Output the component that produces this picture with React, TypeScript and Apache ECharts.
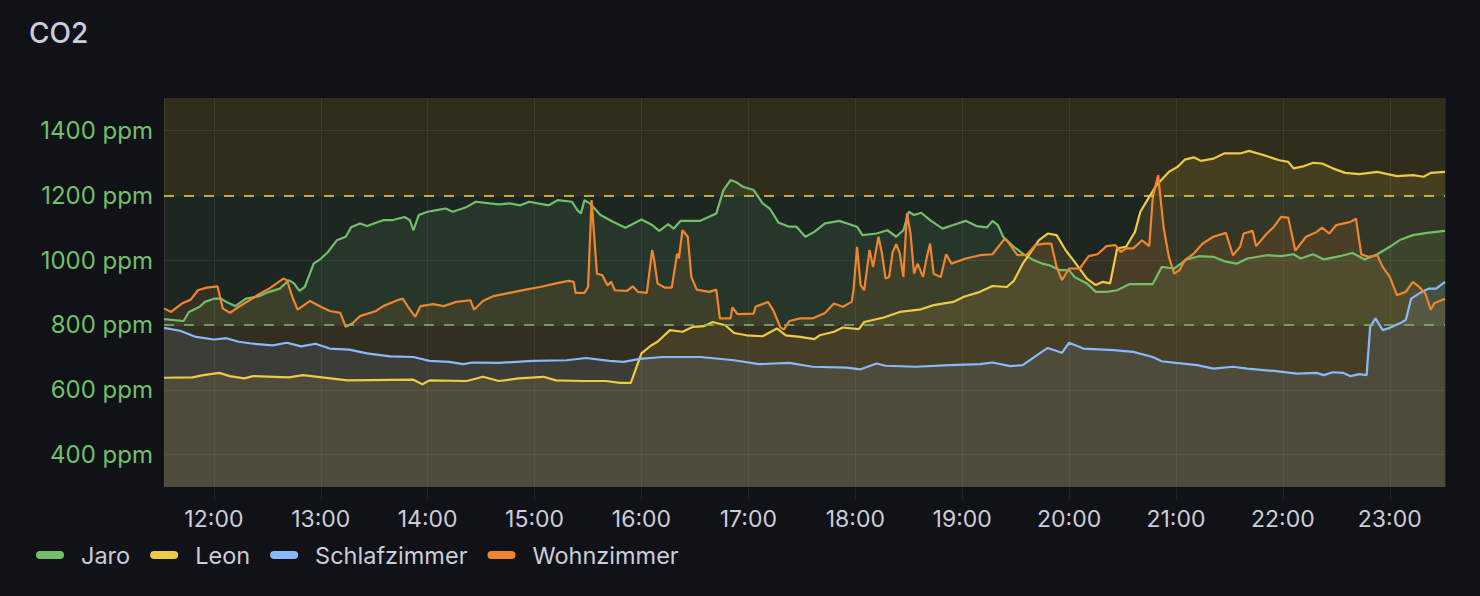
import { useEffect, useRef } from 'react';
import * as echarts from 'echarts';

const seriesNames = ['Jaro', 'Leon', 'Schlafzimmer', 'Wohnzimmer'];
const seriesColors = ['#73BF69', '#EECB45', '#8AB8FF', '#F0852F'];

const jaro: [string, number][] = [
  ['11:32', 818], ['11:43', 812], ['11:46', 840], ['11:52', 856], ['11:55', 871], ['12:00', 881], ['12:04', 881],
  ['12:07', 871], ['12:12', 858], ['12:18', 881], ['12:25', 888], ['12:31', 902], ['12:37', 912], ['12:42', 938],
  ['12:45', 928], ['12:48', 905], ['12:51', 917], ['12:56', 989], ['13:00', 1004], ['13:04', 1025], ['13:09', 1061],
  ['13:14', 1072], ['13:17', 1101], ['13:22', 1113], ['13:26', 1105], ['13:31', 1115], ['13:35', 1123], ['13:40', 1123],
  ['13:47', 1133], ['13:50', 1123], ['13:52', 1092], ['13:55', 1139], ['14:00', 1149], ['14:05', 1154], ['14:10', 1159],
  ['14:14', 1149], ['14:22', 1164], ['14:27', 1180], ['14:35', 1175], ['14:40', 1172], ['14:46', 1175], ['14:52', 1169],
  ['14:57', 1180], ['15:08', 1169], ['15:13', 1185], ['15:21', 1180], ['15:24', 1154], ['15:26', 1144], ['15:28', 1185],
  ['15:31', 1175], ['15:37', 1139], ['15:44', 1118], ['15:51', 1100], ['16:00', 1125], ['16:06', 1108], ['16:10', 1090],
  ['16:15', 1111], ['16:18', 1097], ['16:22', 1121], ['16:33', 1121], ['16:42', 1144], ['16:46', 1216], ['16:50', 1247],
  ['16:53', 1241], ['16:57', 1226], ['17:03', 1216], ['17:08', 1175], ['17:12', 1159], ['17:17', 1115], ['17:23', 1103],
  ['17:27', 1103], ['17:32', 1072], ['17:37', 1087], ['17:43', 1113], ['17:48', 1118], ['17:51', 1121], ['18:01', 1103],
  ['18:04', 1077], ['18:12', 1082], ['18:18', 1092], ['18:23', 1072], ['18:27', 1092], ['18:30', 1149], ['18:33', 1139],
  ['18:37', 1146], ['18:42', 1123], ['18:49', 1097], ['18:55', 1108], ['19:02', 1121], ['19:08', 1105], ['19:14', 1101],
  ['19:17', 1121], ['19:20', 1108], ['19:23', 1072], ['19:29', 1041], ['19:34', 1020], ['19:40', 1000], ['19:45', 989],
  ['19:49', 984], ['19:55', 969], ['20:00', 969], ['20:03', 948], ['20:10', 928], ['20:15', 902], ['20:21', 902],
  ['20:27', 907], ['20:34', 926], ['20:47', 926], ['20:52', 979], ['20:59', 974], ['21:06', 1002], ['21:13', 1012],
  ['21:21', 1010], ['21:28', 995], ['21:34', 989], ['21:40', 1005], ['21:51', 1015], ['21:59', 1012], ['22:06', 1018],
  ['22:10', 1005], ['22:17', 1018], ['22:23', 1002], ['22:32', 1012], ['22:39', 1022], ['22:46', 1002], ['22:53', 1018],
  ['23:00', 1041], ['23:06', 1063], ['23:13', 1077], ['23:21', 1084], ['23:31', 1090],
];

const leon: [string, number][] = [
  ['11:32', 637], ['11:48', 638], ['11:54', 645], ['12:03', 652], ['12:09', 642], ['12:17', 635], ['12:22', 642],
  ['12:42', 638], ['12:50', 645], ['13:15', 629], ['13:52', 631], ['13:57', 617], ['14:01', 629], ['14:22', 627],
  ['14:31', 640], ['14:40', 627], ['14:51', 635], ['15:05', 640], ['15:12', 629], ['15:27', 627], ['15:40', 627],
  ['15:48', 621], ['15:54', 621], ['16:00', 712], ['16:05', 735], ['16:09', 748], ['16:16', 784], ['16:23', 779],
  ['16:29', 794], ['16:35', 796], ['16:40', 809], ['16:47', 799], ['16:52', 775], ['16:59', 768], ['17:08', 765],
  ['17:16', 789], ['17:21', 768], ['17:29', 763], ['17:37', 756], ['17:40', 768], ['17:48', 779], ['17:53', 792],
  ['18:02', 787], ['18:05', 809], ['18:16', 823], ['18:25', 840], ['18:36', 847], ['18:44', 861], ['18:55', 871],
  ['19:01', 887], ['19:10', 902], ['19:17', 920], ['19:25', 917], ['19:29', 936], ['19:34', 989], ['19:38', 1020],
  ['19:43', 1061], ['19:48', 1082], ['19:53', 1077], ['19:58', 1031], ['20:03', 995], ['20:10', 943], ['20:15', 923],
  ['20:19', 933], ['20:23', 928], ['20:27', 1036], ['20:32', 1041], ['20:37', 1087], ['20:40', 1149], ['20:45', 1195],
  ['20:49', 1231], ['20:56', 1272], ['21:01', 1288], ['21:05', 1310], ['21:10', 1317], ['21:14', 1306], ['21:21', 1313],
  ['21:27', 1329], ['21:36', 1329], ['21:41', 1337], ['21:49', 1324], ['21:58', 1308], ['22:03', 1303], ['22:06', 1283],
  ['22:12', 1290], ['22:17', 1300], ['22:22', 1298], ['22:28', 1283], ['22:35', 1269], ['22:43', 1265], ['22:53', 1272],
  ['23:04', 1259], ['23:13', 1262], ['23:19', 1257], ['23:23', 1269], ['23:31', 1272],
];

const schlafzimmer: [string, number][] = [
  ['11:32', 791], ['11:41', 782], ['11:50', 763], ['12:00', 755], ['12:07', 759], ['12:14', 748], ['12:22', 742],
  ['12:33', 737], ['12:41', 745], ['12:49', 734], ['12:57', 742], ['13:05', 727], ['13:16', 724], ['13:26', 712],
  ['13:39', 703], ['13:52', 701], ['14:01', 689], ['14:12', 686], ['14:20', 679], ['14:25', 684], ['14:40', 683],
  ['14:59', 689], ['15:18', 691], ['15:29', 698], ['15:42', 689], ['15:50', 686], ['15:59', 695], ['16:12', 701],
  ['16:33', 701], ['16:52', 691], ['17:06', 679], ['17:23', 683], ['17:36', 671], ['17:55', 668], ['18:03', 663],
  ['18:12', 681], ['18:17', 674], ['18:34', 671], ['18:53', 676], ['19:10', 679], ['19:17', 684], ['19:27', 673],
  ['19:34', 676], ['19:42', 707], ['19:48', 729], ['19:56', 714], ['20:00', 745], ['20:08', 727], ['20:25', 722],
  ['20:36', 717], ['20:47', 701], ['20:52', 688], ['21:00', 683], ['21:12', 676], ['21:21', 665], ['21:32', 671],
  ['21:40', 665], ['21:55', 658], ['22:08', 650], ['22:19', 652], ['22:23', 645], ['22:28', 654], ['22:34', 652],
  ['22:38', 642], ['22:43', 648], ['22:47', 645], ['22:49', 794], ['22:52', 820], ['22:56', 784], ['23:00', 791],
  ['23:06', 806], ['23:09', 815], ['23:12', 881], ['23:17', 899], ['23:22', 912], ['23:26', 912], ['23:31', 933],
];

const wohnzimmer: [string, number][] = [
  ['11:32', 851], ['11:36', 840], ['11:42', 866], ['11:47', 878], ['11:51', 907], ['11:56', 915], ['12:02', 919],
  ['12:05', 851], ['12:09', 837], ['12:14', 856], ['12:20', 876], ['12:26', 897], ['12:31', 912], ['12:39', 943],
  ['12:41', 938], ['12:44', 887], ['12:47', 847], ['12:54', 874], ['13:00', 856], ['13:05', 843], ['13:11', 837],
  ['13:14', 794], ['13:18', 806], ['13:22', 827], ['13:31', 843], ['13:35', 858], ['13:43', 876], ['13:46', 881],
  ['13:49', 856], ['13:53', 825], ['13:56', 858], ['14:03', 864], ['14:09', 858], ['14:16', 871], ['14:24', 876],
  ['14:26', 847], ['14:31', 874], ['14:37', 889], ['14:46', 899], ['14:55', 909], ['15:03', 917], ['15:12', 928],
  ['15:19', 936], ['15:22', 933], ['15:23', 899], ['15:28', 899], ['15:30', 917], ['15:32', 1185], ['15:35', 958],
  ['15:38', 953], ['15:41', 922], ['15:43', 933], ['15:45', 907], ['15:52', 905], ['15:55', 919], ['15:58', 902],
  ['16:03', 899], ['16:06', 1031], ['16:07', 1005], ['16:09', 928], ['16:13', 915], ['16:17', 915], ['16:20', 1020],
  ['16:21', 1005], ['16:23', 1092], ['16:26', 1072], ['16:28', 948], ['16:31', 909], ['16:38', 902], ['16:42', 909],
  ['16:44', 820], ['16:50', 820], ['16:51', 854], ['16:54', 833], ['17:03', 835], ['17:04', 856], ['17:11', 871],
  ['17:14', 845], ['17:18', 792], ['17:20', 786], ['17:23', 812], ['17:29', 820], ['17:36', 820], ['17:43', 837],
  ['17:48', 866], ['17:53', 856], ['17:58', 871], ['17:59', 907], ['18:01', 1041], ['18:03', 923], ['18:05', 907],
  ['18:07', 989], ['18:08', 1031], ['18:10', 979], ['18:13', 1072], ['18:15', 1020], ['18:17', 943], ['18:19', 948],
  ['18:21', 1025], ['18:23', 1049], ['18:25', 1020], ['18:27', 948], ['18:29', 1144], ['18:31', 1082], ['18:33', 958],
  ['18:35', 989], ['18:38', 948], ['18:40', 1005], ['18:42', 1051], ['18:44', 958], ['18:48', 948], ['18:51', 1018],
  ['18:54', 989], ['19:02', 1005], ['19:10', 1015], ['19:17', 1018], ['19:24', 1067], ['19:27', 1046], ['19:31', 1015],
  ['19:36', 1015], ['19:41', 1046], ['19:46', 1051], ['19:50', 1051], ['19:53', 979], ['19:56', 938], ['20:00', 974],
  ['20:06', 974], ['20:11', 1012], ['20:16', 1018], ['20:21', 1043], ['20:26', 1046], ['20:29', 1025], ['20:32', 1036],
  ['20:36', 1036], ['20:41', 1061], ['20:45', 1043], ['20:47', 1195], ['20:50', 1262], ['20:53', 1103], ['20:56', 1010],
  ['20:59', 958], ['21:02', 969], ['21:05', 1000], ['21:10', 1020], ['21:15', 1051], ['21:21', 1072], ['21:28', 1084],
  ['21:32', 1015], ['21:36', 1041], ['21:38', 1082], ['21:43', 1090], ['21:45', 1043], ['21:51', 1082], ['21:55', 1103],
  ['21:59', 1133], ['22:03', 1131], ['22:07', 1029], ['22:13', 1072], ['22:19', 1087], ['22:22', 1100], ['22:26', 1082],
  ['22:30', 1108], ['22:38', 1118], ['22:41', 1128], ['22:44', 1018], ['22:48', 1010], ['22:53', 1015], ['22:56', 979],
  ['23:00', 948], ['23:04', 892], ['23:09', 902], ['23:13', 933], ['23:16', 920], ['23:20', 897], ['23:23', 847],
  ['23:25', 867], ['23:31', 881],
];

const seriesData = [jaro, leon, schlafzimmer, wohnzimmer];
const timeRange = ['11:32', '23:31'];
const yRange = [300, 1500];
const yLabelStep = 200;
const thresholdValues = [800, 1200];

const toTs = (hm: string) => {
  const [h, m] = hm.split(':').map(Number);
  return new Date(2024, 0, 15, h, m, 0).getTime();
};
const pad = (n: number) => (n < 10 ? '0' + n : '' + n);

const FONT = 'Inter, "Noto Sans", "DejaVu Sans", sans-serif';
const TEXT = '#CCCCDC';
const GRID = 'rgba(204,204,220,0.09)';

export default function App() {
  const ref = useRef<HTMLDivElement>(null);
  useEffect(() => {
    document.body.style.margin = '0';
    document.body.style.background = '#111217';
    const chart = echarts.init(ref.current!, null, { renderer: 'svg' });
    chart.setOption({
      animation: false,
      backgroundColor: '#111217',
      textStyle: { fontFamily: FONT },
      title: {
        text: 'CO2',
        left: 29,
        top: 19,
        padding: 0,
        textStyle: { color: TEXT, fontSize: 28, fontWeight: 500, fontFamily: FONT },
      },
      legend: {
        data: seriesNames,
        left: 36,
        top: 543,
        padding: 0,
        itemWidth: 28,
        itemHeight: 8,
        itemGap: 20,
        icon: 'path://M4 0H24A4 4 0 0 1 24 8H4A4 4 0 0 1 4 0Z',
        itemStyle: { borderWidth: 0 },
        textStyle: { color: TEXT, fontSize: 23.5, fontFamily: FONT, padding: [0, 0, 0, 12] },
      },
      grid: { left: 164, right: 35, top: 98, bottom: 109 },
      xAxis: {
        type: 'time',
        min: toTs(timeRange[0]),
        max: toTs(timeRange[1]),
        minInterval: 3600 * 1000,
        maxInterval: 3600 * 1000,
        axisLine: { show: false },
        axisTick: { show: true, length: 13, lineStyle: { color: GRID } },
        splitLine: { show: true, lineStyle: { color: GRID } },
        axisLabel: {
          color: TEXT,
          fontSize: 23,
          fontFamily: FONT,
          margin: 20,
          showMinLabel: false,
          showMaxLabel: false,
          formatter: (v: number) => {
            const d = new Date(v);
            return pad(d.getHours()) + ':' + pad(d.getMinutes());
          },
        },
      },
      yAxis: {
        type: 'value',
        min: yRange[0],
        max: yRange[1],
        interval: 100,
        axisLine: { show: false },
        axisTick: { show: false },
        splitLine: { show: true, lineStyle: { color: ['transparent', GRID] } },
        axisLabel: {
          color: '#73BF69',
          fontSize: 24,
          fontFamily: FONT,
          margin: 11,
          formatter: (v: number) => (v % yLabelStep === 0 ? `${v} ppm` : ''),
        },
      },
      series: seriesNames.map((name, i) => {
        const s: any = {
          name,
          type: 'line',
          data: seriesData[i].map(([t, v]) => [toTs(t), v]),
          showSymbol: false,
          symbol: 'none',
          z: 2,
          lineStyle: { width: 2.2, color: seriesColors[i] },
          itemStyle: { color: seriesColors[i] },
          areaStyle: { color: seriesColors[i], opacity: 0.11, origin: 'start' },
        };
        if (i === 0) {
          s.markArea = {
            silent: true,
            z: 1,
            data: [
              [{ yAxis: thresholdValues[0], itemStyle: { color: 'rgba(126,178,109,0.13)' } }, { yAxis: thresholdValues[1] }],
              [{ yAxis: thresholdValues[1], itemStyle: { color: 'rgba(236,200,70,0.15)' } }, { yAxis: yRange[1] }],
            ],
          };
          s.markLine = {
            silent: true,
            symbol: ['none', 'none'],
            label: { show: false },
            lineStyle: { type: [10, 10], width: 2 },
            data: [
              { yAxis: thresholdValues[0], lineStyle: { color: 'rgba(126,178,109,0.8)' } },
              { yAxis: thresholdValues[1], lineStyle: { color: 'rgba(234,200,60,0.8)' } },
            ],
          };
        }
        return s;
      }),
    });
    return () => chart.dispose();
  }, []);
  return <div ref={ref} style={{ position: 'absolute', left: 0, top: 0, width: 1480, height: 596 }} />;
}
